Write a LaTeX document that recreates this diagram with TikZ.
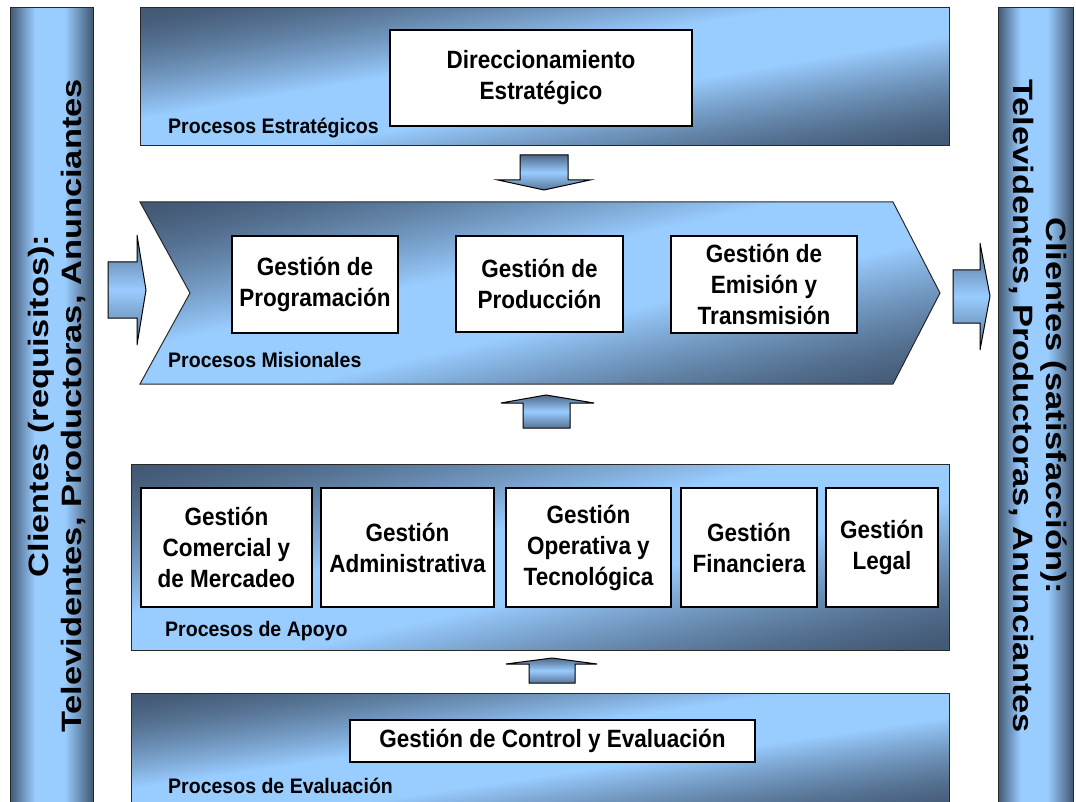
\documentclass[tikz,border=0pt]{standalone}
\usepackage{fontspec}
\setmainfont{Liberation Sans}
\newfontfamily\boxfont{Liberation Sans}[FakeStretch=0.9]
\newfontfamily\labelfont{Liberation Sans}[FakeStretch=0.93]
\newfontfamily\sidefont{Liberation Sans}[FakeStretch=1.23]

\definecolor{bandDark}{RGB}{66,88,115}
\definecolor{bandLight}{RGB}{153,204,255}
\definecolor{bandEdge}{RGB}{40,40,40}

\pgfdeclarefunctionalshading{bandshade}{\pgfpointorigin}{\pgfpoint{100bp}{100bp}}{}{
  75 exch sub exch 25 sub add 100 div
  2 mul 1 sub abs 1 exch sub
  0.8 div dup 1 gt {pop 1} if
  dup 0 lt {pop 0} if
  1.4 exp
  dup 0.341 mul 0.259 add exch
  dup 0.455 mul 0.345 add exch
  0.549 mul 0.451 add
}
\pgfdeclarehorizontalshading{tubeshade}{100bp}{color(0bp)=(bandDark); color(25bp)=(bandDark); color(40bp)=(bandLight); color(58bp)=(bandLight); color(75bp)=(bandDark); color(100bp)=(bandDark)}

\tikzset{
  band/.style={draw=bandEdge, line width=1pt, shading=bandshade},
  sidebar/.style={draw=bandEdge, line width=1pt, shading=tubeshade},
  gbox/.style={draw=black, fill=white, line width=1.1pt, align=center, inner sep=0pt,
    font=\boxfont\bfseries\fontsize{25}{31}\selectfont},
  proclabel/.style={anchor=base west, inner sep=0pt, font=\labelfont\bfseries\fontsize{21}{25}\selectfont},
  sidetext/.style={align=center, inner sep=0pt, font=\sidefont\bfseries\fontsize{28}{33}\selectfont},
  blockarrow/.style={draw=black, line width=1pt, top color=bandDark!85!bandLight,
    bottom color=bandDark!75!bandLight, middle color=bandLight}
}

\begin{document}
\begin{tikzpicture}[x=1pt,y=-1pt]
\useasboundingbox (0,0) rectangle (1076,802);
\clip (0,0) rectangle (1076,802);

\draw[sidebar] (10,8) rectangle (93,812);
\draw[sidebar] (998,8) rectangle (1073,812);
\node[sidetext, rotate=90] (clientesReq) at (57,406) {Clientes (requisitos):\\Televidentes, Productoras, Anunciantes};
\node[sidetext, rotate=-90] (clientesSat) at (1038,406) {Clientes (satisfacción):\\Televidentes, Productoras, Anunciantes};

\draw[band] (140,8) rectangle (949,146);
\node[gbox, minimum width=302, minimum height=96] (direccionamiento) at (541,78) {Direccionamiento\\Estratégico};
\node[proclabel] (lblEstrategicos) at (168,134) {Procesos Estratégicos};

\draw[blockarrow] (520,155) -- (568,155) -- (568,180) -- (590,180) -- (544,190) -- (498,180) -- (520,180) -- cycle;

\draw[band] (140,202) -- (893,202) -- (940,293) -- (893,384) -- (140,384) -- (190,293) -- cycle;
\node[gbox, minimum width=166, minimum height=97] (programacion) at (315,284.5) {Gestión de\\Programación};
\node[gbox, minimum width=167, minimum height=96] (produccion) at (539.5,284) {Gestión de\\Producción};
\node[gbox, minimum width=186, minimum height=97] (emision) at (764,284.5) {Gestión de\\Emisión y\\Transmisión};
\node[proclabel] (lblMisionales) at (168,367) {Procesos Misionales};

\draw[blockarrow] (108,262) -- (137,262) -- (137,235) -- (146,290) -- (137,345) -- (137,318) -- (108,318) -- cycle;
\draw[blockarrow] (953,270) -- (980,270) -- (980,243) -- (990,296) -- (980,350) -- (980,323) -- (953,323) -- cycle;

\draw[blockarrow] (523,428) -- (523,403) -- (501,403) -- (546,395) -- (594,403) -- (570,403) -- (570,428) -- cycle;

\draw[band] (131,464) rectangle (949,650);
\node[gbox, minimum width=171, minimum height=119] (comercial) at (226.5,547.5) {Gestión\\Comercial y\\de Mercadeo};
\node[gbox, minimum width=173, minimum height=119] (administrativa) at (407.5,547.5) {Gestión\\Administrativa};
\node[gbox, minimum width=165, minimum height=119] (operativa) at (588.5,547.5) {Gestión\\Operativa y\\Tecnológica};
\node[gbox, minimum width=136, minimum height=119] (financiera) at (749,547.5) {Gestión\\Financiera};
\node[gbox, minimum width=112, minimum height=119] (legal) at (882,547.5) {Gestión\\Legal};
\node[proclabel] (lblApoyo) at (165,636) {Procesos de Apoyo};

\draw[blockarrow] (529,683) -- (529,664) -- (506,664) -- (552,658) -- (597,664) -- (575,664) -- (575,683) -- cycle;

\draw[band] (131,693) rectangle (949,812);
\node[gbox, minimum width=405, minimum height=42] (control) at (552.5,741) {Gestión de Control y Evaluación};
\node[proclabel] (lblEvaluacion) at (168,793) {Procesos de Evaluación};
\end{tikzpicture}
\end{document}
